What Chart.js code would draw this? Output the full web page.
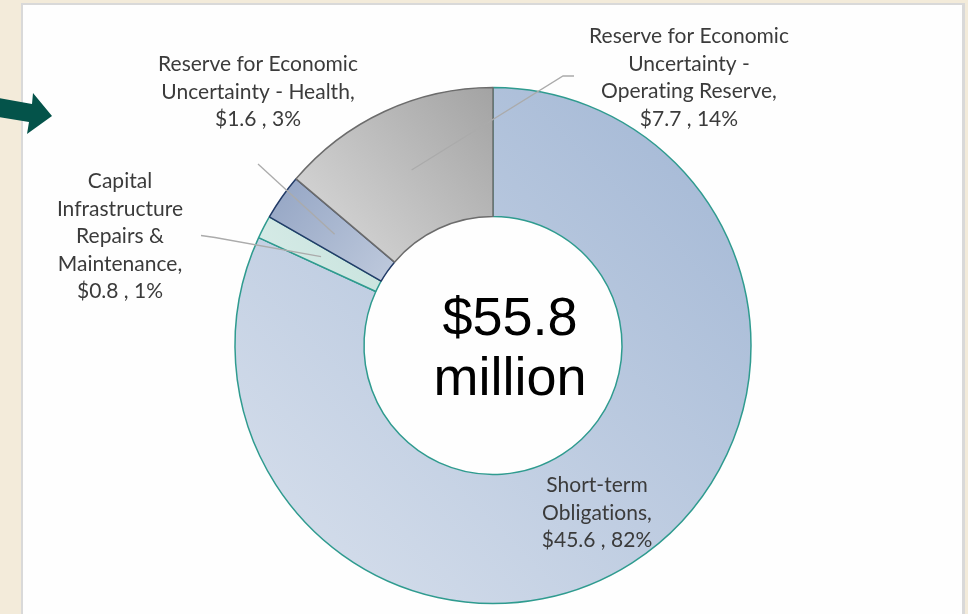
<!DOCTYPE html>
<html>
<head>
<meta charset="utf-8">
<script src="https://cdn.jsdelivr.net/npm/chart.js@4/dist/chart.umd.min.js"></script>
<style>
  html, body { margin: 0; padding: 0; background: #f3ebda; overflow: hidden; }
  #wrap { position: relative; width: 968px; height: 614px; }
</style>
</head>
<body>
<div id="wrap"><canvas id="reserves" width="968" height="614"></canvas></div>
<script>
// Fund balance breakdown ($ million)
const categories = [
  'Short-term Obligations',
  'Capital Infrastructure Repairs & Maintenance',
  'Reserve for Economic Uncertainty - Health',
  'Reserve for Economic Uncertainty - Operating Reserve'
];
const amounts = [45.6, 0.8, 1.6, 7.7];
const percents = [82, 1, 3, 14];
const labelLines = [
  ['Short-term', 'Obligations,'],
  ['Capital', 'Infrastructure', 'Repairs &', 'Maintenance,'],
  ['Reserve for Economic', 'Uncertainty - Health,'],
  ['Reserve for Economic', 'Uncertainty -', 'Operating Reserve,']
];
const totalLines = ['$55.8', 'million'];

// Slice fills: linear gradient across each slice's bounding box
const sliceStyles = [
  { from: '#a1b6d4', to: '#d9e1ed', dir: 'tr-bl', border: '#2f9b8f' },
  { from: '#c6e2dc', to: '#d8ece8', dir: 'tr-bl', border: '#2f9b8f' },
  { from: '#93a4c3', to: '#bfcadd', dir: 'tl-br', border: '#223b67' },
  { from: '#a3a3a3', to: '#dcdcdc', dir: 'tr-bl', border: '#6c6c6c' }
];

// Label placement, relative to the ring centre (first baseline, centred text)
const labelPlace = [
  { dx: 104, dy: 146.5, leader: null },
  { dx: -373, dy: -157.5, leader: [[-292, -110], [-278, -108]] },
  { dx: -235, dy: -274.5, leader: [[-235, -181.5]] },
  { dx: 196, dy: -302.5, leader: [[81, -269.5], [70, -269.5]] }
];
const LINE_H = 27.6;

function sliceGradient(ctx) {
  const chart = ctx.chart;
  const i = ctx.dataIndex;
  const st = sliceStyles[i];
  const area = chart.chartArea;
  const ctl = chart.getDatasetMeta(0).controller;
  if (!area || !ctl || !ctl.outerRadius) return st.to;
  const cx = (area.left + area.right) / 2, cy = (area.top + area.bottom) / 2;
  const R = ctl.outerRadius, r = ctl.innerRadius;
  const total = amounts.reduce((a, b) => a + b, 0);
  let a0 = -Math.PI / 2;
  for (let k = 0; k < i; k++) a0 += amounts[k] / total * Math.PI * 2;
  const a1 = a0 + amounts[i] / total * Math.PI * 2;
  let x0 = Infinity, y0 = Infinity, x1 = -Infinity, y1 = -Infinity;
  for (let s = 0; s <= 90; s++) {
    const a = a0 + (a1 - a0) * s / 90;
    for (const rr of [r, R]) {
      const x = cx + rr * Math.cos(a), y = cy + rr * Math.sin(a);
      x0 = Math.min(x0, x); y0 = Math.min(y0, y);
      x1 = Math.max(x1, x); y1 = Math.max(y1, y);
    }
  }
  const g = st.dir === 'tr-bl'
    ? chart.ctx.createLinearGradient(x1, y0, x0, y1)
    : chart.ctx.createLinearGradient(x0, y0, x1, y1);
  g.addColorStop(0, st.from);
  g.addColorStop(1, st.to);
  return g;
}

// Page backdrop: beige slide with a white content panel
const backdrop = {
  id: 'backdrop',
  beforeDraw(chart) {
    const c = chart.ctx;
    c.save();
    c.fillStyle = '#f3ebda';
    c.fillRect(0, 0, chart.width, chart.height);
    c.fillStyle = '#d9d9d9';
    c.fillRect(21, 3, 944, 620);
    c.fillStyle = '#fefefe';
    c.fillRect(23, 5, 939, 620);
    c.restore();
  },
  afterDraw(chart) {
    // green pointer arrow at the left edge
    const c = chart.ctx;
    c.save();
    c.fillStyle = '#04534a';
    c.beginPath();
    c.moveTo(-2, 98);
    c.lineTo(32, 104);
    c.lineTo(33, 93);
    c.lineTo(52, 116);
    c.lineTo(27, 134);
    c.lineTo(29, 122);
    c.lineTo(-2, 117);
    c.closePath();
    c.fill();
    c.restore();
  }
};

// Leader lines, category labels and the total in the hole
const annotations = {
  id: 'annotations',
  afterDatasetsDraw(chart) {
    const c = chart.ctx;
    const meta = chart.getDatasetMeta(0);
    const first = meta.data[0];
    const cx = first.x, cy = first.y;
    c.save();
    // leaders: from label anchor to slice centroid (mid angle, mid radius)
    c.strokeStyle = '#ababab';
    c.lineWidth = 1.3;
    meta.data.forEach((arc, i) => {
      const p = labelPlace[i];
      if (!p.leader) return;
      const mid = (arc.startAngle + arc.endAngle) / 2;
      const rm = (arc.innerRadius + arc.outerRadius) / 2;
      c.beginPath();
      p.leader.forEach((pt, k) => {
        if (k === 0) c.moveTo(cx + pt[0], cy + pt[1]);
        else c.lineTo(cx + pt[0], cy + pt[1]);
      });
      c.lineTo(arc.x + rm * Math.cos(mid), arc.y + rm * Math.sin(mid));
      c.stroke();
    });
    // category labels (no ligatures)
    c.fillStyle = '#3b3b3b';
    c.font = '21px Lato, "Open Sans", sans-serif';
    if ('letterSpacing' in c) c.letterSpacing = '0.01px';
    c.textAlign = 'center';
    c.textBaseline = 'alphabetic';
    labelLines.forEach((lines, i) => {
      const p = labelPlace[i];
      const all = lines.concat(['$' + amounts[i].toFixed(1) + ' , ' + percents[i] + '%']);
      all.forEach((t, k) => c.fillText(t, cx + p.dx, cy + p.dy + k * LINE_H));
    });
    // total in the centre
    if ('letterSpacing' in c) c.letterSpacing = '0px';
    c.fillStyle = '#000000';
    c.font = '54px "Liberation Sans", Arial, sans-serif';
    c.fillText(totalLines[0], cx + 17, cy - 10.5);
    c.fillText(totalLines[1], cx + 17, cy + 49.5);
    c.restore();
  }
};

new Chart(document.getElementById('reserves'), {
  type: 'doughnut',
  data: {
    labels: categories,
    datasets: [{
      data: amounts,
      backgroundColor: sliceGradient,
      borderColor: sliceStyles.map(s => s.border),
      borderWidth: 1.5,
      hoverOffset: 0
    }]
  },
  options: {
    responsive: false,
    animation: false,
    devicePixelRatio: 1,
    cutout: '50%',
    radius: 258,
    layout: { padding: { left: 18, right: 0, top: 77, bottom: 0 } },
    plugins: {
      legend: { display: false },
      tooltip: { enabled: false }
    }
  },
  plugins: [backdrop, annotations]
});
</script>
</body>
</html>
